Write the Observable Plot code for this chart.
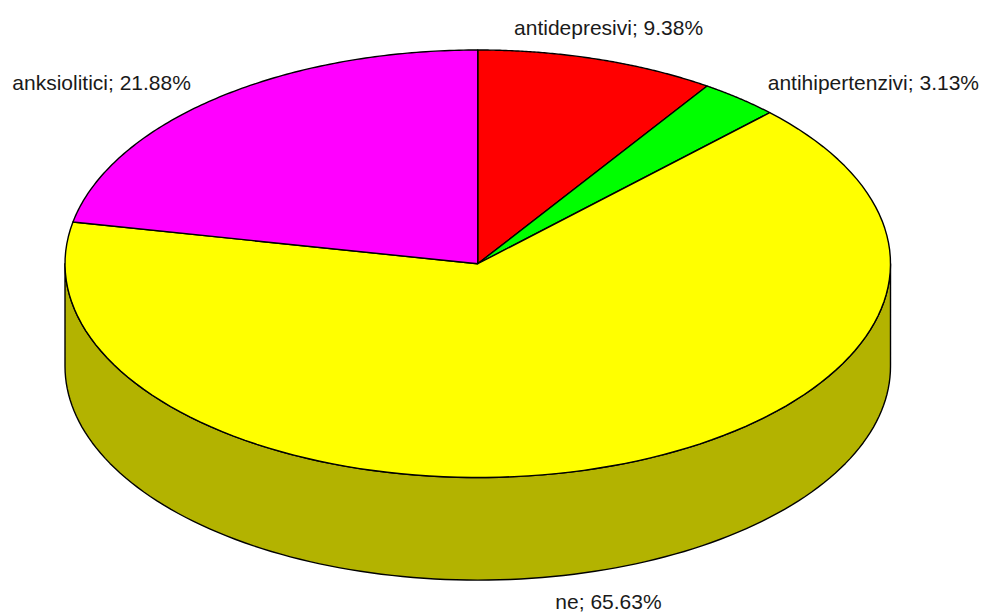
<!DOCTYPE html>
<html><head><meta charset="utf-8">
<script src="https://cdn.jsdelivr.net/npm/d3@7"></script>
<script src="https://cdn.jsdelivr.net/npm/@observablehq/plot@0.6"></script>
<style>html,body{margin:0;padding:0;background:#fff}svg{display:block}</style>
</head><body><div id="chart"></div>
<script>
const categories = ["antidepresivi", "antihipertenzivi", "ne", "anksiolitici"];
const percents = [9.38, 3.13, 65.63, 21.88];
const colors = ["#ff0000", "#00ff00", "#ffff00", "#ff00ff"];
const sideColor = "#b3b300";
const depth = 0.48; // wall height, in units of the vertical radius

const total = d3.sum(percents);
const px = a => Math.sin(a);
const py = a => Math.cos(a);
const arc = (a0, a1) => d3.range(0, 121).map(i => a0 + (a1 - a0) * i / 120);

let acc = 0;
const slices = categories.map((name, i) => {
  const a0 = acc / total * 2 * Math.PI;
  acc += percents[i];
  const a1 = acc / total * 2 * Math.PI;
  return {name, value: percents[i], color: colors[i], a0, a1, mid: (a0 + a1) / 2};
});

const slicePts = slices.flatMap(s => [
  {id: s.name, color: s.color, x: 0, y: 0},
  ...arc(s.a0, s.a1).map(a => ({id: s.name, color: s.color, x: px(a), y: py(a)})),
  {id: s.name, color: s.color, x: 0, y: 0}
]);

const wallArc = arc(Math.PI / 2, 3 * Math.PI / 2);
const wallPts = [
  ...wallArc.map(a => ({x: px(a), y: py(a)})),
  ...wallArc.slice().reverse().map(a => ({x: px(a), y: py(a) - depth})),
  {x: px(wallArc[0]), y: py(wallArc[0])}
];

const labels = slices.map(s => {
  const x = px(s.mid), y = py(s.mid);
  const front = y < 0;
  const side = Math.abs(x) > 0.5;
  return {
    text: `${s.name}; ${s.value.toFixed(2)}%`,
    x, y: front ? y - depth : y,
    anchor: side ? (x > 0 ? "start" : "end") : "middle",
    dx: side ? (x > 0 ? 28 : -25) : 11,
    dy: side ? -15 : (front ? 31 : -31)
  };
});

const chart = Plot.plot({
  width: 983, height: 615,
  margin: 0,
  style: {fontFamily: "'Liberation Sans', Arial, sans-serif", background: "white"},
  x: {domain: [-1, 1], range: [64.5, 890], axis: null},
  y: {domain: [-1, 1], range: [477, 49.5], axis: null},
  marks: [
    Plot.line(wallPts, {x: "x", y: "y", fill: sideColor, stroke: "black", strokeWidth: 1.4, curve: "linear"}),
    Plot.line(slicePts, {x: "x", y: "y", z: "id", fill: "color", stroke: "black", strokeWidth: 1.4, curve: "linear"}),
    ...labels.map(d => Plot.text([d], {
      x: "x", y: "y", text: "text", textAnchor: d.anchor,
      dx: d.dx, dy: d.dy, fontSize: 21, fill: "#1a1a1a"
    }))
  ]
});
document.getElementById("chart").appendChild(chart);
</script>
</body></html>
